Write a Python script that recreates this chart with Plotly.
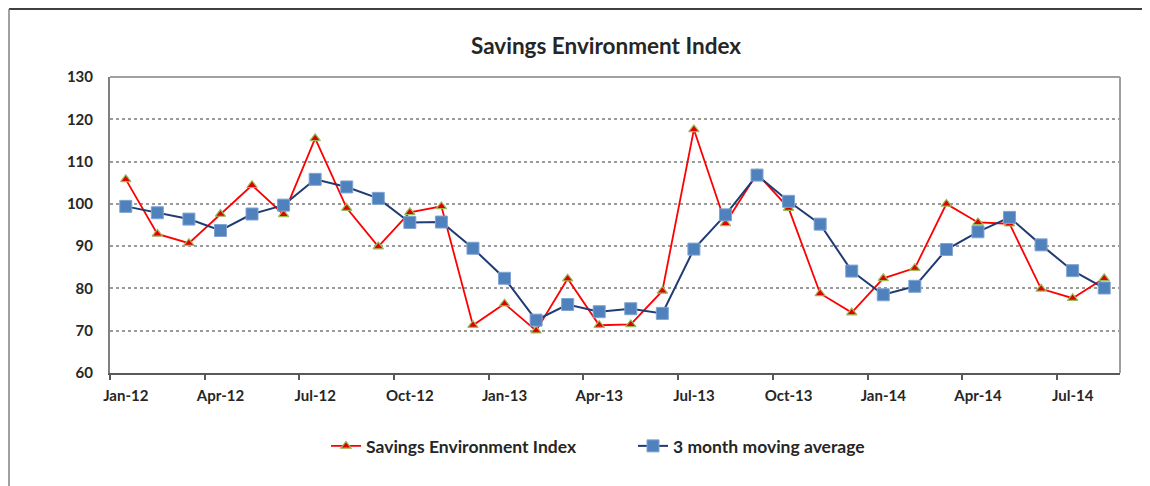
import plotly.graph_objects as go

months = ["Jan-12", "Feb-12", "Mar-12", "Apr-12", "May-12", "Jun-12", "Jul-12", "Aug-12",
          "Sep-12", "Oct-12", "Nov-12", "Dec-12", "Jan-13", "Feb-13", "Mar-13", "Apr-13",
          "May-13", "Jun-13", "Jul-13", "Aug-13", "Sep-13", "Oct-13", "Nov-13", "Dec-13",
          "Jan-14", "Feb-14", "Mar-14", "Apr-14", "May-14", "Jun-14", "Jul-14", "Aug-14"]

sei = [105.8, 92.9, 90.7, 97.6, 104.4, 97.5, 115.5, 99.0, 89.9, 98.0, 99.4, 71.3,
       76.4, 70.0, 82.3, 71.3, 71.5, 79.4, 117.6, 95.4, 107.2, 99.0, 78.8, 74.3,
       82.4, 84.8, 100.0, 95.6, 95.3, 79.9, 77.7, 82.4]

ma3 = [99.4, 97.9, 96.4, 93.7, 97.6, 99.7, 105.8, 104.0, 101.3, 95.6, 95.7, 89.5,
       82.4, 72.5, 76.2, 74.5, 75.2, 74.1, 89.3, 97.4, 106.8, 100.6, 95.2, 84.1,
       78.5, 80.5, 89.2, 93.4, 96.8, 90.3, 84.2, 80.1]

y_ticks = [60, 70, 80, 90, 100, 110, 120, 130]

x = list(range(len(months)))
label_idx = [i for i in x if i % 3 == 0]
label_txt = [months[i] for i in label_idx]
boundary_ticks = [i - 0.5 for i in label_idx]

# page body has an 8px margin, so target screen coordinates are shifted by OFF
OFF = 8
W, H = 1150, 486
L, T = 110 - OFF, 77 - OFF
R = W - (1120 - OFF)
B = H - (373 - OFF)
pw, ph = W - L - R, H - T - B

def px(sx):  # screen x -> paper x
    return (sx - OFF - L) / pw

def py(sy):  # screen y -> paper y
    return (T + ph - (sy - OFF)) / ph

FONT = "Lato"
TXT = "#262626"

fig = go.Figure()
fig.add_trace(go.Scatter(
    x=x, y=sei, name="<b>Savings Environment Index</b>", mode="lines+markers",
    line=dict(color="#FF0000", width=1.8),
    marker=dict(symbol="triangle-up", size=9, color="#E00000",
                line=dict(color="#9BBB59", width=1.2)),
))
fig.add_trace(go.Scatter(
    x=x, y=ma3, name="<b>3 month moving average</b>", mode="lines+markers",
    line=dict(color="#1F3B73", width=2),
    marker=dict(symbol="square", size=12, color="#4F81BD",
                line=dict(color="#7FA3D3", width=1)),
))

fig.update_layout(
    width=W, height=H,
    margin=dict(l=L, r=R, t=T, b=B),
    paper_bgcolor="white", plot_bgcolor="white",
    title=dict(text="<b>Savings Environment Index</b>", x=(606 - OFF) / W, xanchor="center",
               y=1 - (46 - OFF) / H, yanchor="middle",
               font=dict(family=FONT, size=22.5, color=TXT)),
    font=dict(family=FONT, color=TXT),
    showlegend=True,
    legend=dict(orientation="h", x=px(326), xanchor="left",
                y=py(446), yanchor="middle",
                font=dict(family=FONT, size=17.5, color=TXT),
                entrywidth=262, entrywidthmode="pixels",
                bgcolor="rgba(0,0,0,0)"),
    xaxis=dict(
        range=[-0.5, len(months) - 0.5],
        tickmode="array", tickvals=label_idx, ticktext=["<b>%s</b>" % t for t in label_txt],
        ticks="", showgrid=False, zeroline=False,
        tickfont=dict(family=FONT, size=15, color=TXT),
        ticklabelstandoff=8,
        showline=True, linecolor="#595959", linewidth=2,
        minor=dict(tickmode="array", tickvals=boundary_ticks, ticks="outside",
                   ticklen=5, tickwidth=1.5, tickcolor="#595959", showgrid=False),
    ),
    yaxis=dict(
        range=[60, 130], tickmode="array", tickvals=y_ticks,
        ticktext=["<b>%d</b>" % v for v in y_ticks],
        tickfont=dict(family=FONT, size=15, color=TXT),
        ticks="", ticklabelstandoff=12,
        showgrid=True, gridcolor="#9A9A9A", gridwidth=1.5, griddash="dot",
        zeroline=False,
        showline=True, linecolor="#808080", linewidth=2,
    ),
    shapes=[
        # plot area top and right borders
        dict(type="line", xref="paper", yref="paper", x0=0, x1=1, y0=1, y1=1,
             line=dict(color="#A0A0A0", width=2)),
        dict(type="line", xref="paper", yref="paper", x0=1, x1=1, y0=0, y1=1,
             line=dict(color="#A0A0A0", width=2)),
        # outer chart frame (top and left edges)
        dict(type="line", xref="paper", yref="paper",
             x0=px(OFF + 1), x1=px(W + 20),
             y0=py(OFF + 1), y1=py(OFF + 1),
             line=dict(color="#404040", width=2)),
        dict(type="line", xref="paper", yref="paper",
             x0=px(OFF + 1), x1=px(OFF + 1),
             y0=py(OFF + 1), y1=py(H + 20),
             line=dict(color="#808080", width=1.5)),
    ],
)

fig.write_html("out.html")
